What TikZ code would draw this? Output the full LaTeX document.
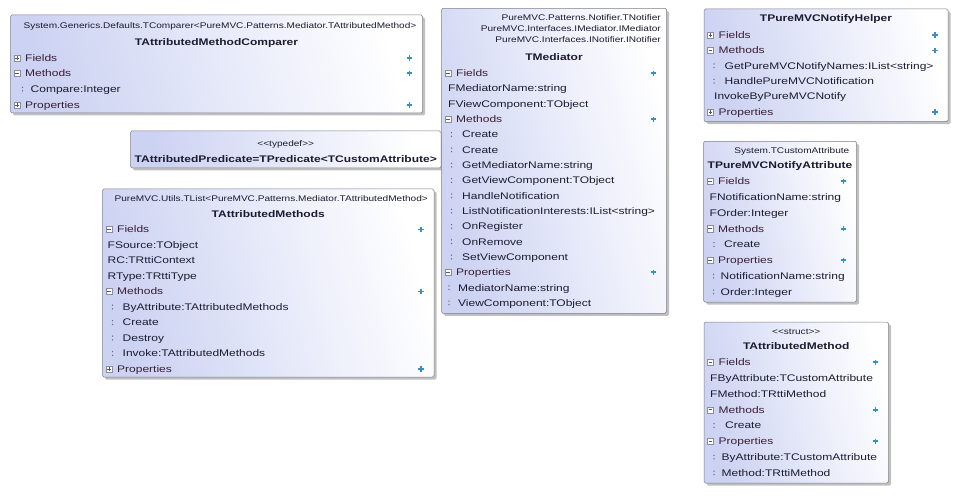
\documentclass[tikz,border=0pt]{standalone}
\usepackage{fontspec}
\usetikzlibrary{shadows}

% Widened sans faces for the class members and for the ancestor lines
\newfontfamily\rowfont[FakeStretch=1.25]{Liberation Sans}
\newfontfamily\hdrfont[FakeStretch=1.23]{Liberation Sans}

\definecolor{boxblue}{RGB}{204,210,242}
\definecolor{boxmid}{RGB}{230,233,249}
\definecolor{boxedge}{RGB}{125,125,140}
\definecolor{txt}{RGB}{28,28,48}
\definecolor{secttxt}{RGB}{58,30,52}
\definecolor{addblue}{RGB}{58,142,200}
\definecolor{dotcol}{RGB}{110,100,140}
\definecolor{toggray}{RGB}{140,140,155}

\tikzset{
  classbox/.style={draw=boxedge, line width=0.5pt, rounded corners=1.5pt,
    shading=axis, top color=white, bottom color=boxblue, middle color=boxmid,
    shading angle=-75,
    drop shadow={shadow xshift=2.5pt, shadow yshift=-2.5pt, fill=black!45, opacity=0.55},
    inner sep=0pt},
  rowtxt/.style={anchor=base west, inner sep=0pt, text=txt,
    font=\rowfont\fontsize{9.6}{11}\selectfont},
  secttxt/.style={rowtxt, text=secttxt},
  titletxt/.style={anchor=base, inner sep=0pt, text=txt,
    font=\rowfont\bfseries\fontsize{9.6}{11}\selectfont},
  hdrtxt/.style={anchor=base east, inner sep=0pt, text=txt,
    font=\hdrfont\fontsize{8.2}{10}\selectfont},
  stereotxt/.style={hdrtxt, anchor=base},
  togbox/.style={draw=toggray, fill=white, line width=0.4pt, minimum size=6pt, inner sep=0pt},
  togmark/.style={draw=black!65, line width=0.5pt},
  addplus/.style={draw=addblue, line width=1.7pt},
}

% Section header: name, box left, box right, centre y, label, p = collapsed / m = expanded
\newcommand\umlsect[6]{%
  \node[togbox] (#1box) at (#2+6.5,#4) {};
  \draw[togmark] ([xshift=-1.8pt]#1box.center) -- ([xshift=1.8pt]#1box.center);
  \ifx#6p\draw[togmark] ([yshift=-1.8pt]#1box.center) -- ([yshift=1.8pt]#1box.center);\fi
  \node[secttxt] (#1) at (#2+14.5,#4+3.4) {#5};
  \draw[addplus] (#3-15.6,#4) -- (#3-10.4,#4) (#3-13,#4-2.6) -- (#3-13,#4+2.6);
}
% Member with its visibility mark: name, mark x, text x, centre y, label
\newcommand\umlmember[5]{%
  \fill[dotcol] (#2,#4-1.8) circle[radius=0.75pt] (#2,#4+1.8) circle[radius=0.75pt];
  \node[rowtxt] (#1) at (#3,#4+3.4) {#5};
}
% Plain field line: name, text x, centre y, label
\newcommand\umlfield[4]{\node[rowtxt] (#1) at (#2,#3+3.4) {#4};}

\begin{document}
\begin{tikzpicture}[x=1pt,y=-1pt]
\useasboundingbox (0,0) rectangle (962,500);

% ---------------- TAttributedMethodComparer ----------------
\node[classbox, minimum width=412pt, minimum height=98pt] (cmp) at (216.5,64) {};
\node[hdrtxt] (cmpanc) at (416.5,28.6) {System.Generics.Defaults.TComparer<PureMVC.Patterns.Mediator.TAttributedMethod>};
\node[titletxt] (cmpname) at (216.5,45.7) {TAttributedMethodComparer};
\umlsect{cmpf}{10.5}{422.5}{58}{Fields}{p}
\umlsect{cmpm}{10.5}{422.5}{73.2}{Methods}{m}
\umlmember{cmpm1}{22.5}{30.5}{89.2}{Compare:Integer}
\umlsect{cmpp}{10.5}{422.5}{105}{Properties}{p}

% ---------------- TAttributedPredicate ----------------
\node[classbox, minimum width=310.5pt, minimum height=37pt] (pred) at (285.75,149.5) {};
\node[stereotxt] (predst) at (285.75,146.4) {<\kern0pt<typedef>\kern0pt>};
\node[titletxt] (predname) at (285.75,162.9) {TAttributedPredicate=TPredicate<TCustomAttribute>};

% ---------------- TAttributedMethods ----------------
\node[classbox, minimum width=331.5pt, minimum height=188pt] (ams) at (268.25,283) {};
\node[hdrtxt] (amsanc) at (428,201.2) {PureMVC.Utils.TList<PureMVC.Patterns.Mediator.TAttributedMethod>};
\node[titletxt] (amsname) at (268.25,217.7) {TAttributedMethods};
\umlsect{amsf}{102.5}{434}{229.5}{Fields}{m}
\umlfield{amsf1}{107.5}{245}{FSource:TObject}
\umlfield{amsf2}{107.5}{260.5}{RC:TRttiContext}
\umlfield{amsf3}{107.5}{276}{RType:TRttiType}
\umlsect{amsm}{102.5}{434}{291.5}{Methods}{m}
\umlmember{amsm1}{112.5}{122.5}{307}{ByAttribute:TAttributedMethods}
\umlmember{amsm2}{112.5}{122.5}{322.5}{Create}
\umlmember{amsm3}{112.5}{122.5}{338}{Destroy}
\umlmember{amsm4}{112.5}{122.5}{353.5}{Invoke:TAttributedMethods}
\umlsect{amsp}{102.5}{434}{369}{Properties}{p}

% ---------------- TMediator ----------------
\node[classbox, minimum width=225pt, minimum height=305pt] (med) at (554,160.8) {};
\node[hdrtxt] (medanc1) at (661,20.9) {PureMVC.Patterns.Notifier.TNotifier};
\node[hdrtxt] (medanc2) at (661,31.9) {PureMVC.Interfaces.IMediator.IMediator};
\node[hdrtxt] (medanc3) at (661,42.9) {PureMVC.Interfaces.INotifier.INotifier};
\node[titletxt] (medname) at (554,60.1) {TMediator};
\umlsect{medf}{441.5}{666.5}{73.3}{Fields}{m}
\umlfield{medf1}{448}{88.6}{FMediatorName:string}
\umlfield{medf2}{448}{103.9}{FViewComponent:TObject}
\umlsect{medm}{441.5}{666.5}{119.2}{Methods}{m}
\umlmember{medm1}{451.5}{462}{134.5}{Create}
\umlmember{medm2}{451.5}{462}{149.9}{Create}
\umlmember{medm3}{451.5}{462}{165.2}{GetMediatorName:string}
\umlmember{medm4}{451.5}{462}{180.5}{GetViewComponent:TObject}
\umlmember{medm5}{451.5}{462}{195.8}{HandleNotification}
\umlmember{medm6}{451.5}{462}{211.1}{ListNotificationInterests:IList<string>}
\umlmember{medm7}{451.5}{462}{226.4}{OnRegister}
\umlmember{medm8}{451.5}{462}{241.7}{OnRemove}
\umlmember{medm9}{451.5}{462}{257}{SetViewComponent}
\umlsect{medp}{441.5}{666.5}{272.3}{Properties}{m}
\umlmember{medp1}{449}{458}{287.6}{MediatorName:string}
\umlmember{medp2}{449}{458}{302.9}{ViewComponent:TObject}

% ---------------- TPureMVCNotifyHelper ----------------
\node[classbox, minimum width=244pt, minimum height=112.7pt] (hlp) at (826,65.35) {};
\node[titletxt] (hlpname) at (826,21.7) {TPureMVCNotifyHelper};
\umlsect{hlpf}{704}{948}{35}{Fields}{p}
\umlsect{hlpm}{704}{948}{50.4}{Methods}{m}
\umlmember{hlpm1}{714}{724.5}{65.8}{GetPureMVCNotifyNames:IList<string>}
\umlmember{hlpm2}{714}{724.5}{81.2}{HandlePureMVCNotification}
\umlfield{hlpm3}{714}{96.6}{InvokeByPureMVCNotify}
\umlsect{hlpp}{704}{948}{112}{Properties}{p}

% ---------------- TPureMVCNotifyAttribute ----------------
\node[classbox, minimum width=153pt, minimum height=160.7pt] (att) at (780,221.65) {};
\node[hdrtxt] (attanc) at (849.5,153.6) {System.TCustomAttribute};
\node[titletxt] (attname) at (780,168.7) {TPureMVCNotifyAttribute};
\umlsect{attf}{703.5}{856.5}{181.3}{Fields}{m}
\umlfield{attf1}{709.5}{197.1}{FNotificationName:string}
\umlfield{attf2}{709.5}{212.9}{FOrder:Integer}
\umlsect{attm}{703.5}{856.5}{228.7}{Methods}{m}
\umlmember{attm1}{714}{724}{244.5}{Create}
\umlsect{attp}{703.5}{856.5}{260.3}{Properties}{m}
\umlmember{attp1}{713.5}{720.5}{276.1}{NotificationName:string}
\umlmember{attp2}{713.5}{720.5}{291.9}{Order:Integer}

% ---------------- TAttributedMethod ----------------
\node[classbox, minimum width=184.5pt, minimum height=161pt] (am) at (796.25,402.5) {};
\node[stereotxt] (amst) at (796.25,334.2) {<\kern0pt<struct>\kern0pt>};
\node[titletxt] (amname) at (796.25,349.9) {TAttributedMethod};
\umlsect{amf}{704}{888.5}{362.3}{Fields}{m}
\umlfield{amf1}{710}{378.1}{FByAttribute:TCustomAttribute}
\umlfield{amf2}{710}{393.9}{FMethod:TRttiMethod}
\umlsect{amm}{704}{888.5}{409.7}{Methods}{m}
\umlmember{amm1}{714}{725}{425.5}{Create}
\umlsect{amp}{704}{888.5}{441.3}{Properties}{m}
\umlmember{amp1}{714}{721.5}{457.1}{ByAttribute:TCustomAttribute}
\umlmember{amp2}{714}{721.5}{472.9}{Method:TRttiMethod}

\end{tikzpicture}
\end{document}
